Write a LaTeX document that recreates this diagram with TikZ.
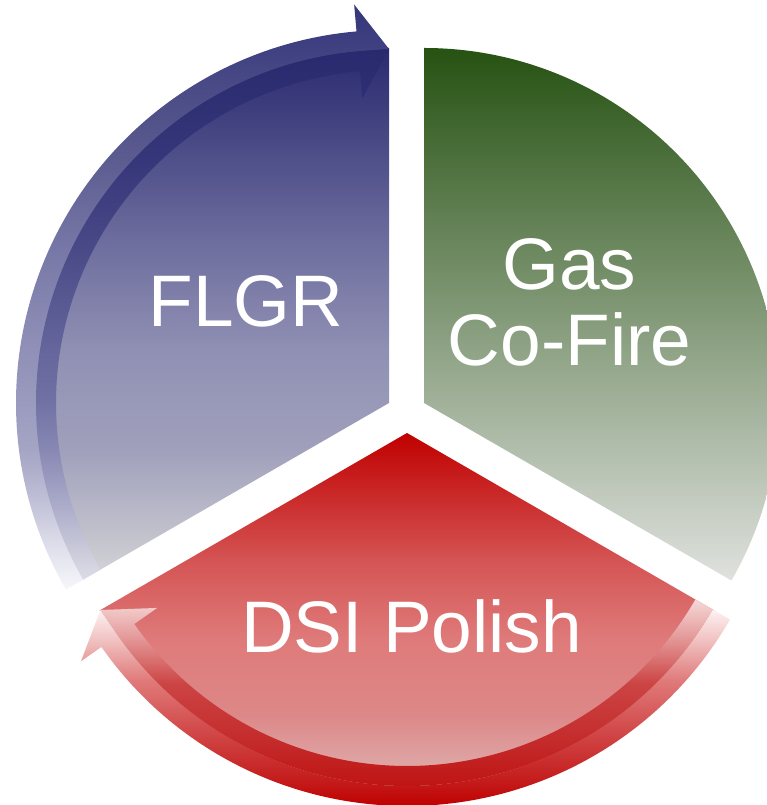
\documentclass[tikz,border=0pt]{standalone}
\usepackage{fontspec}
\setmainfont{Liberation Sans}
\usepackage{tikz}
\usepackage{color}

% FLGR slice and its arrow
\definecolor{fw1}{HTML}{2A2A72}
\definecolor{fw2}{HTML}{3B3B7C}
\definecolor{fw3}{HTML}{7070A0}
\definecolor{fw4}{HTML}{9090B4}
\definecolor{fw5}{HTML}{A0A0BC}
\definecolor{fw6}{HTML}{C8C8D0}
\definecolor{fw7}{HTML}{D6D6DA}
\definecolor{fo1}{HTML}{35367B}
\definecolor{fo2}{HTML}{5C5C90}
\definecolor{fo3}{HTML}{7878A8}
\definecolor{fo4}{HTML}{9090B8}
\definecolor{fo5}{HTML}{A4A4C4}
\definecolor{fo6}{HTML}{C0C0D8}
\definecolor{fo7}{HTML}{E0E0EC}
\definecolor{fo8}{HTML}{F6F6FA}
\definecolor{fi1}{HTML}{29296F}
\definecolor{fi2}{HTML}{36367A}
\definecolor{fi3}{HTML}{4A4A88}
\definecolor{fi4}{HTML}{66669C}
\definecolor{fi5}{HTML}{7070A4}
\definecolor{fi6}{HTML}{8888B4}
\definecolor{fi7}{HTML}{A8A8C8}
\definecolor{fi8}{HTML}{CACADA}
\definecolor{fi9}{HTML}{DCDCE8}
% Gas Co-Fire slice
\definecolor{gastop}{HTML}{265212}
\definecolor{gasmid}{HTML}{7E9872}
\definecolor{gasbot}{HTML}{DFE1DE}
% DSI Polish slice and its arrow
\definecolor{dw1}{HTML}{C00000}
\definecolor{dw2}{HTML}{D55555}
\definecolor{dw3}{HTML}{DF7A7A}
\definecolor{dw4}{HTML}{DD8888}
\definecolor{dw5}{HTML}{DFB5B5}
\definecolor{dw6}{HTML}{E4D4D4}
\definecolor{do1}{HTML}{FDF2F2}
\definecolor{do2}{HTML}{F0C0C0}
\definecolor{do3}{HTML}{E07A7A}
\definecolor{do4}{HTML}{D24A4A}
\definecolor{do5}{HTML}{C41C1C}
\definecolor{do6}{HTML}{C00000}
\definecolor{di1}{HTML}{F6D8D8}
\definecolor{di2}{HTML}{E49A9A}
\definecolor{di3}{HTML}{CC4444}
\definecolor{di4}{HTML}{C42A2A}
\definecolor{di5}{HTML}{C01414}

% the path box is mapped onto 25bp..75bp
\pgfdeclareverticalshading{flgrslice}{100bp}{color(0bp)=(fw7); color(25bp)=(fw7);
  color(27.8bp)=(fw6); color(37.2bp)=(fw5); color(46.6bp)=(fw4); color(56bp)=(fw3);
  color(70bp)=(fw2); color(75bp)=(fw1); color(100bp)=(fw1)}
\pgfdeclareverticalshading{flgrouter}{100bp}{color(0bp)=(fo8); color(25bp)=(fo8);
  color(28.5bp)=(fo7); color(32.6bp)=(fo6); color(37bp)=(fo5); color(45.5bp)=(fo4);
  color(54bp)=(fo3); color(61.7bp)=(fo2); color(75bp)=(fo1); color(100bp)=(fo1)}
\pgfdeclareverticalshading{flgrinner}{100bp}{color(0bp)=(fi9); color(25bp)=(fi9);
  color(27.8bp)=(fi8); color(32.5bp)=(fi7); color(37.2bp)=(fi6); color(42bp)=(fi5);
  color(46.6bp)=(fi4); color(56bp)=(fi3); color(64.5bp)=(fi2); color(75bp)=(fi1);
  color(100bp)=(fi1)}
\pgfdeclareverticalshading{dsislice}{100bp}{color(0bp)=(dw6); color(25bp)=(dw6);
  color(30.8bp)=(dw5); color(40.2bp)=(dw4); color(49.6bp)=(dw3); color(59bp)=(dw2);
  color(75bp)=(dw1); color(100bp)=(dw1)}
\pgfdeclareverticalshading{dsiouter}{100bp}{color(0bp)=(do6); color(25bp)=(do6);
  color(31.6bp)=(do5); color(44.5bp)=(do4); color(57bp)=(do3); color(67bp)=(do2);
  color(75bp)=(do1); color(100bp)=(do1)}
\pgfdeclareverticalshading{dsiinner}{100bp}{color(0bp)=(di5); color(25bp)=(di5);
  color(36.5bp)=(di4); color(52.5bp)=(di3); color(65bp)=(di2); color(75bp)=(di1);
  color(100bp)=(di1)}

\begin{document}
\begin{tikzpicture}[%
      x=1pt, y=1pt,
      slice label/.style={text=white, font=\fontsize{73}{76}\selectfont},
      ]
      \clip (0,0) rectangle (767,805);

      % apex of each slice
      \coordinate (flgr) at (389,402);
      \coordinate (gas) at (424,402);
      \coordinate (dsi) at (407,372);

      % the three slices
      \shade [shading=flgrslice]
        (flgr) -- ++(90:355) arc[start angle=90, end angle=210, radius=355] -- cycle;
      \shade [top color=gastop, middle color=gasmid, bottom color=gasbot]
        (gas) -- ++(90:355) arc[start angle=90, end angle=-30, radius=355] -- cycle;
      \shade [shading=dsislice]
        (dsi) -- ++(210:355) arc[start angle=210, end angle=330, radius=355] -- cycle;

      % round arrow on the FLGR slice, outer and inner half
      \begin{scope}[shift={(flgr)}]
        \shade [shading=flgrouter]
          (210:373) arc[start angle=210, end angle=95, radius=373]
          -- (95:400) -- (90:354) -- (95:353)
          arc[start angle=95, end angle=210, radius=353] -- cycle;
        \shade [shading=flgrinner]
          (210:353) arc[start angle=210, end angle=95, radius=353]
          -- (90:354) -- (95:306) -- (95:333)
          arc[start angle=95, end angle=210, radius=333] -- cycle;
      \end{scope}

      % round arrow on the DSI slice, outer and inner half
      \begin{scope}[shift={(dsi)}]
        \shade [shading=dsiouter]
          (330:373) arc[start angle=330, end angle=215, radius=373]
          -- (215:398) -- (210:354) -- (215:353)
          arc[start angle=215, end angle=330, radius=353] -- cycle;
        \shade [shading=dsiinner]
          (330:353) arc[start angle=330, end angle=215, radius=353]
          -- (210:354) -- (215:305) -- (215:333)
          arc[start angle=215, end angle=330, radius=333] -- cycle;
      \end{scope}

      % labels
      \node [slice label, anchor=base] (flgrtext) at (246,478) {FLGR};
      \node [slice label, align=center] (gastext) at (569.5,503) {Gas\\Co-Fire};
      \node [slice label, anchor=base] (dsitext) at (411.5,152) {DSI Polish};
\end{tikzpicture}
\end{document}
